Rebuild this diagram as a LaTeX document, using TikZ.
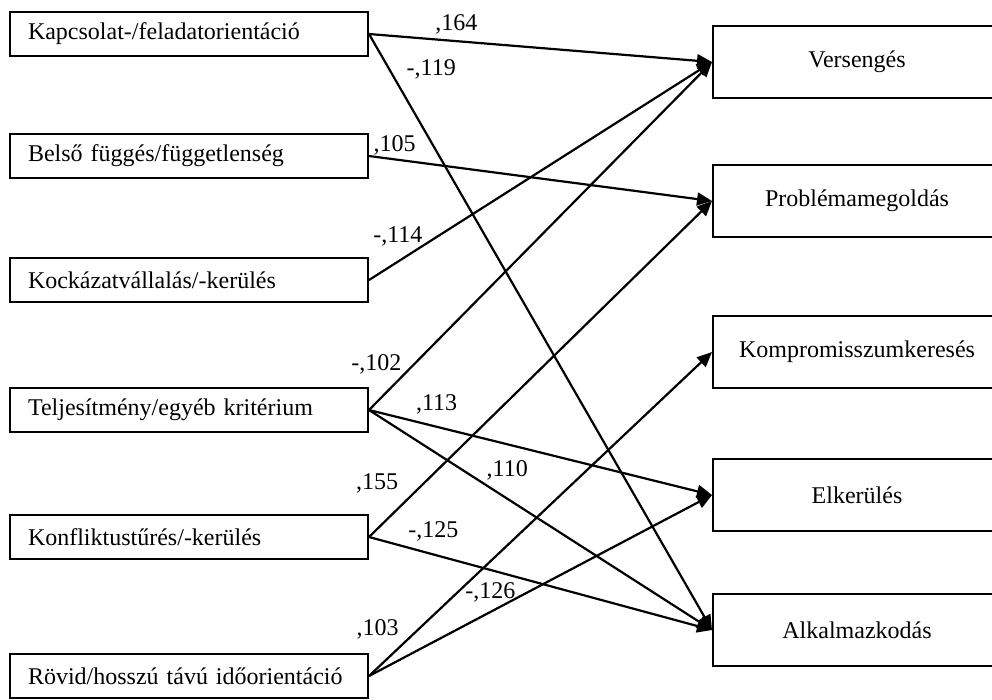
\documentclass[tikz,border=0pt]{standalone}
\usepackage{fontspec}
\setmainfont{Liberation Serif}
\usetikzlibrary{arrows.meta}

\begin{document}
\begin{tikzpicture}[
    x=1pt, y=-1pt,
    lbox/.style={rectangle, draw, line width=2pt, text width=322pt, inner xsep=18pt,
                 align=left, minimum height=44pt, font=\fontsize{24}{28}\selectfont},
    rbox/.style={rectangle, draw, line width=2pt, align=center,
                 minimum width=288pt, minimum height=72pt, font=\fontsize{24}{28}\selectfont},
    arrow/.style={-{Triangle[length=15pt,width=13pt]}, line width=2.2pt},
    val/.style={inner sep=0pt, font=\fontsize{24}{28}\selectfont}
  ]
    \useasboundingbox (0,0) rectangle (992,699);
    % independent variables
    \node[lbox] (kap) at (189,34)  {Kapcsolat-/feladatorientáció};
    \node[lbox] (bel) at (189,156) {Belső függés/függetlenség};
    \node[lbox] (koc) at (189,280) {Kockázatvállalás/-kerülés};
    \node[lbox] (tel) at (189,410) {Teljesítmény/egyéb kritérium};
    \node[lbox] (kon) at (189,537) {Konfliktustűrés/-kerülés};
    \node[lbox] (rov) at (189,676) {Rövid/hosszú távú időorientáció};
    % conflict handling styles
    \node[rbox] (ver) at (857,62)  {Versengés};
    \node[rbox] (pro) at (857,201) {Problémamegoldás};
    \node[rbox] (kom) at (857,352) {Kompromisszumkeresés};
    \node[rbox] (elk) at (857,495) {Elkerülés};
    \node[rbox] (alk) at (857,630) {Alkalmazkodás};
    % paths
    \draw[arrow] (kap.east) -- node[val, pos=.255, yshift=17pt] {,164} (ver.west);
    \draw[arrow] (kap.east) -- node[val, pos=.059, xshift=42pt] {-,119} (alk.west);
    \draw[arrow] (bel.east) -- node[val, pos=.075, yshift=14pt] {,105} (pro.west);
    \draw[arrow] (koc.east) -- node[val, pos=.084, yshift=25pt] {-,114} (ver.west);
    \draw[arrow] (tel.east) -- node[val, pos=.132, xshift=-38pt] {-,102} (ver.west);
    \draw[arrow] (tel.east) -- node[val, pos=.197, yshift=22pt] {,113} (elk.west);
    \draw[arrow] (tel.east) -- node[val, pos=.403, yshift=28pt] {,110} (alk.west);
    \draw[arrow] (kon.east) -- node[val, pos=.158, xshift=-46pt] {,155} (pro.west);
    \draw[arrow] (kon.east) -- node[val, pos=.188, yshift=23pt] {-,125} (alk.west);
    \draw[arrow] (rov.east) -- node[val, pos=.145, xshift=-41pt] {,103} (kom.west);
    \draw[arrow] (rov.east) -- node[val, pos=.354, yshift=20pt] {-,126} (elk.west);
  \end{tikzpicture}
\end{document}
